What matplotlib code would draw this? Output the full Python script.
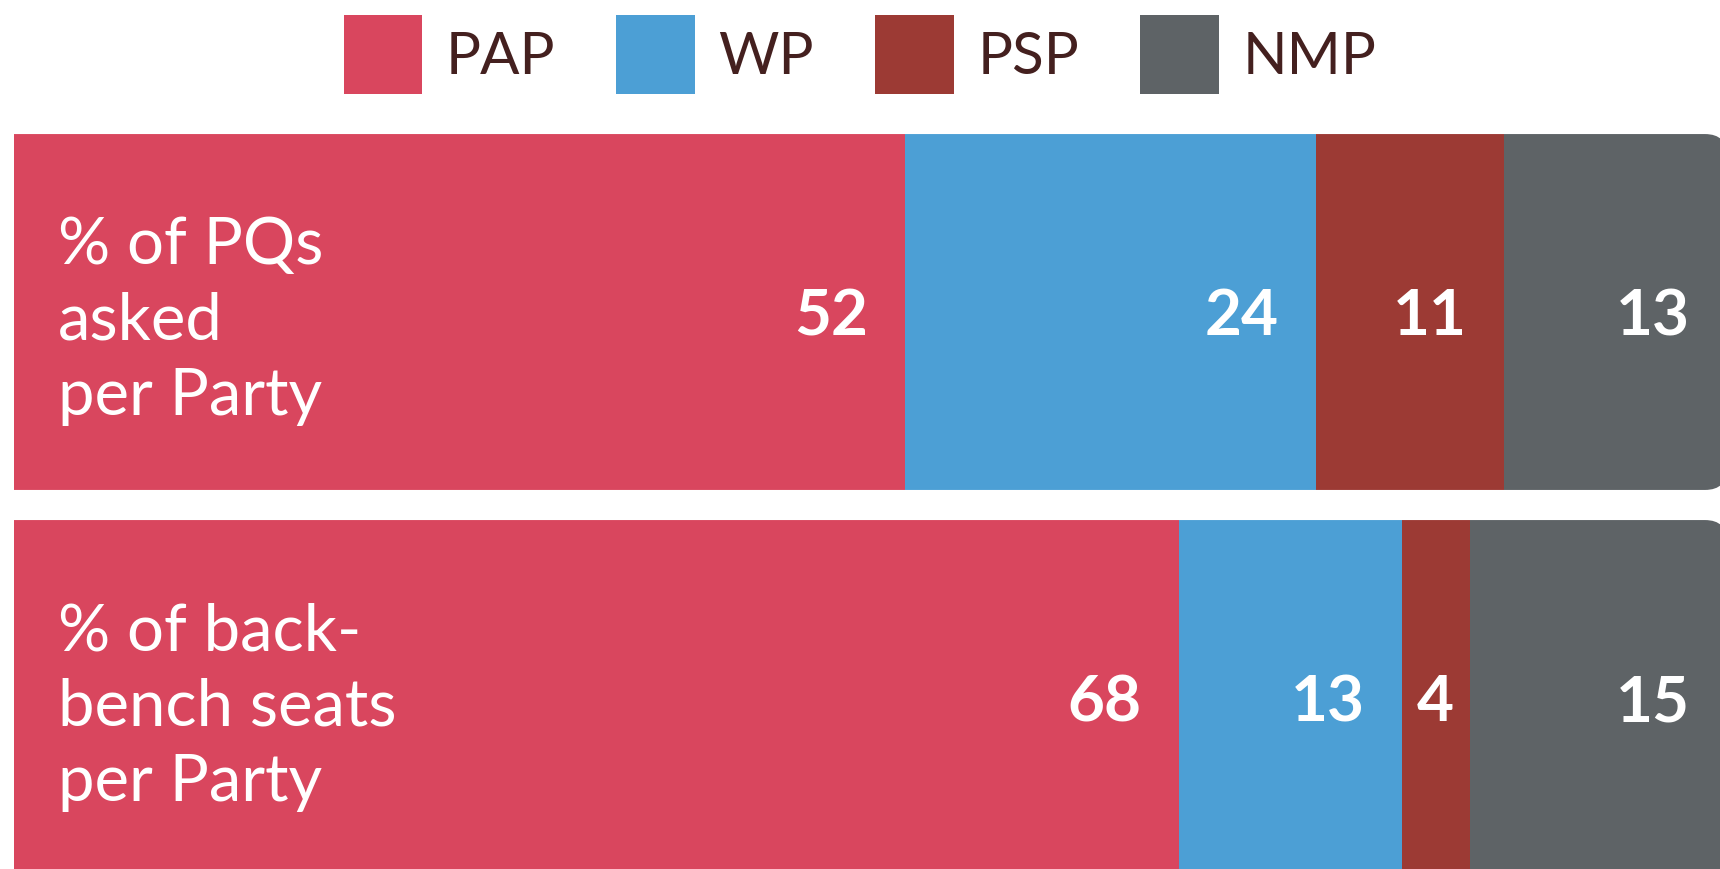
import numpy as np
import matplotlib
matplotlib.use("Agg")
import matplotlib.pyplot as plt
from matplotlib.patches import Patch, FancyBboxPatch

plt.rcParams['font.family'] = ['Lato', 'DejaVu Sans']

# data
parties = ['PAP', 'WP', 'PSP', 'NMP']
colors = ['#D9465E', '#4C9FD5', '#9C3A34', '#5E6366']
row_labels = ['% of PQs\nasked\nper Party', '% of back-\nbench seats\nper Party']
pq_share = [52, 24, 11, 13]
seat_share = [68, 13, 4, 15]
rows = [pq_share, seat_share]

W, H = 1720, 870
fig = plt.figure(figsize=(W / 100, H / 100), dpi=100)

# bar area: x=0 at 14px, 100 at ~1727px; row pitch 386px, first row centred at y=313px
x0_px, x100_px = 14, 1727
top_px, bot_px = 120, 892
ax = fig.add_axes([x0_px / W, (H - bot_px) / H, (x100_px - x0_px) / W, (bot_px - top_px) / H])
ax.set_xlim(0, 100)
ax.set_ylim(1.5, -0.5)
ax.axis('off')

bar_h = 0.922
px_per_x = (x100_px - x0_px) / 100
px_per_y = (bot_px - top_px) / 2
corner_px = 22
radius = corner_px / px_per_x

for i, vals in enumerate(rows):
    # rounded clip shape, only the right-hand corners show
    clip = FancyBboxPatch((-10, i - bar_h / 2), 110, bar_h,
                          boxstyle=f"round,pad=0,rounding_size={radius}",
                          mutation_aspect=(corner_px / px_per_y) / radius,
                          transform=ax.transData, facecolor='none', edgecolor='none')
    ax.add_patch(clip)
    left = 0
    for v, c in zip(vals, colors):
        b = ax.barh(i, v, left=left, height=bar_h, color=c, edgecolor='none')
        for r in b:
            r.set_clip_path(clip)
        end = left + v
        if v < 6:
            ax.annotate(str(v), (left + v / 2, i), xytext=(0, -22), textcoords='offset pixels',
                        ha='center', va='baseline', color='white', fontsize=46, fontweight='bold')
        else:
            ax.annotate(str(v), (end, i), xytext=(-37, -22), textcoords='offset pixels',
                        ha='right', va='baseline', color='white', fontsize=46, fontweight='bold')
        left = end
    ax.annotate(row_labels[i], (0, i), xytext=(44, -8), textcoords='offset pixels',
                ha='left', va='center', color='white', fontsize=47, linespacing=1.34)

handles = [Patch(facecolor=c, edgecolor='none') for c in colors]
fig.legend(handles, parties, loc='upper center', bbox_to_anchor=(0.5, 1 - 16 / H), ncol=4,
           frameon=False, fontsize=42, labelcolor='#44201F',
           handlelength=1.35, handleheight=1.70, handletextpad=0.4, columnspacing=1.05,
           borderaxespad=0, borderpad=0)

fig.savefig('out.png', dpi=100, facecolor='white')
